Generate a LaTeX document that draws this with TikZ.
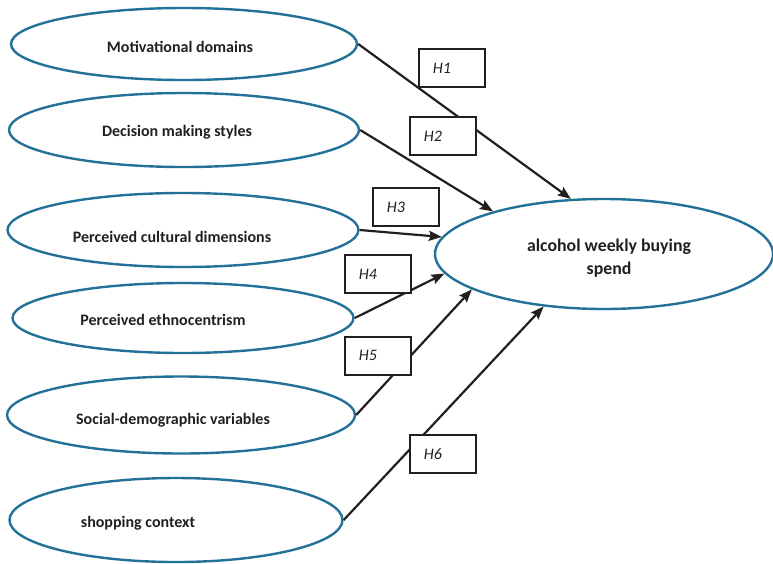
\documentclass[tikz,border=0pt]{standalone}
\usepackage{fontspec}
\setmainfont{Carlito}
\usetikzlibrary{shapes.geometric,arrows.meta}
\definecolor{ellblue}{RGB}{36,113,152}
\definecolor{ink}{RGB}{35,31,32}
\begin{document}
\begin{tikzpicture}[x=1pt,y=-1pt,
 var/.style={ellipse, draw=ellblue, line width=2.4pt, inner sep=0pt},
 lab/.style={font=\fontsize{16}{20}\selectfont\bfseries, text=ink, inner sep=0pt},
 hyp/.style={draw=ink, line width=1.8pt, fill=white, rectangle, inner xsep=14pt, inner ysep=0pt, text width=38pt, align=left, minimum height=38pt, font=\fontsize{16}{20}\selectfont\itshape, text=ink, anchor=north west},
 link/.style={draw=ink, line width=2.2pt, -{Stealth[length=13pt,width=10pt,inset=2pt]}}
]
\useasboundingbox (0,0) rectangle (773,563);
% variables
\node[var, minimum width=346pt, minimum height=72pt] (e1) at (184,44) {};
\node[var, minimum width=350pt, minimum height=74pt] (e2) at (184,130) {};
\node[var, minimum width=351pt, minimum height=74pt] (e3) at (183,230) {};
\node[var, minimum width=341pt, minimum height=70pt] (e4) at (183,318) {};
\node[var, minimum width=348pt, minimum height=77pt] (e5) at (181,415) {};
\node[var, minimum width=333pt, minimum height=84pt] (e6) at (176,520) {};
\node[var, minimum width=338pt, minimum height=110pt] (t) at (604,254) {};
% labels
\node[lab] (l1) at (180,47) {Motivational domains};
\node[lab] (l2) at (177,132) {Decision making styles};
\node[lab] (l3) at (172,237) {Perceived cultural dimensions};
\node[lab] (l4) at (163,320) {Perceived ethnocentrism};
\node[lab] (l5) at (173,420) {Social-demographic variables};
\node[lab] (l6) at (138,523) {shopping context};
\node[lab, align=center, font=\fontsize{17.8}{23}\selectfont\bfseries] (lt) at (609,258) {alcohol weekly buying\\spend};
% paths
\draw[link] (e1.east) -- (t.121.7);
\draw[link] (e2.east) -- (t.159);
\draw[link] (e3.east) -- (t.174);
\draw[link] (e4.east) -- (t.187.1);
\draw[link] (e5.east) -- (t.195.4);
\draw[link] (e6.east) -- (t.221.9);
% hypotheses
\node[hyp] (h1) at (418,48) {H1};
\node[hyp] (h2) at (409,116) {H2};
\node[hyp] (h3) at (372,187) {H3};
\node[hyp] (h4) at (344,254) {H4};
\node[hyp] (h5) at (344,336) {H5};
\node[hyp] (h6) at (409,434) {H6};
\end{tikzpicture}
\end{document}
